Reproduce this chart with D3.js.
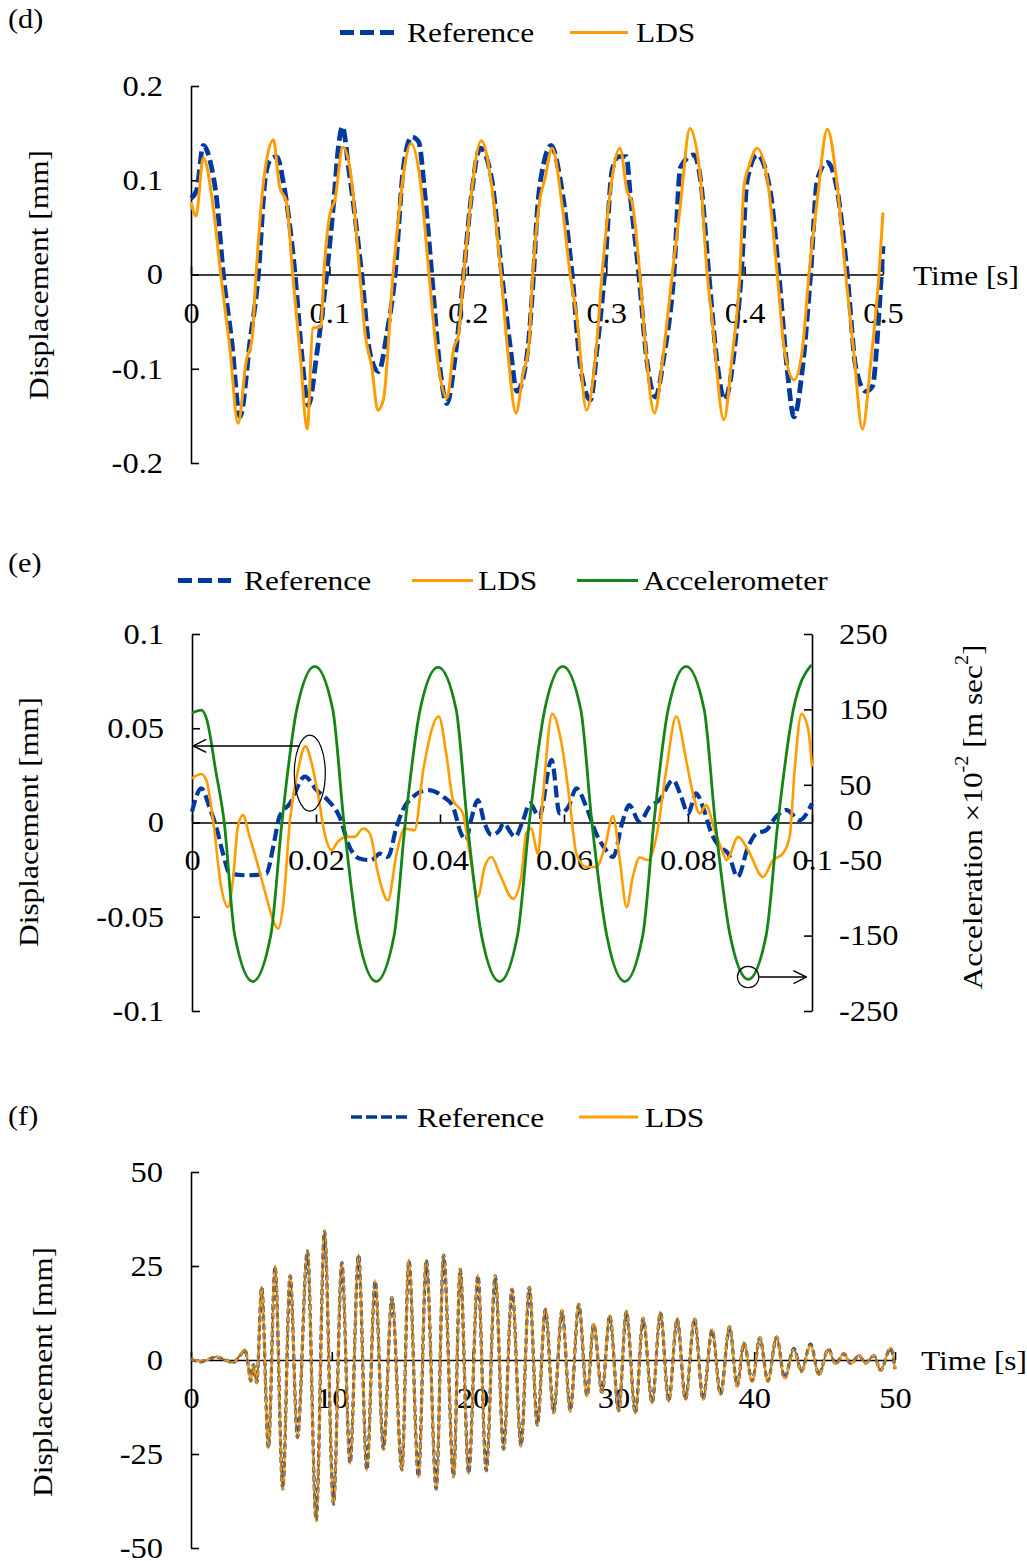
<!DOCTYPE html>
<html><head><meta charset="utf-8">
<script src="https://cdn.jsdelivr.net/npm/d3@7"></script>
<style>body{margin:0;background:#fff}</style>
</head><body>
<svg id="c" width="1027" height="1561"></svg>
<script>
// ---------------- DATA ----------------
const seriesNames = ["Reference", "LDS", "Accelerometer"];
// Panel (d)
const dXTicks = [0, 0.1, 0.2, 0.3, 0.4, 0.5];
const dYTicks = [-0.2, -0.1, 0, 0.1, 0.2];
const dRef = [[0,0.081],[0.004,0.089],[0.0089,0.137],[0.0137,0.121],[0.0186,0.079],[0.0234,0],[0.0294,-0.07],[0.0354,-0.151],[0.0427,-0.07],[0.0487,0],[0.0535,0.1],[0.0571,0.121],[0.062,0.125],[0.0668,0.097],[0.0752,0],[0.08,-0.084],[0.0848,-0.139],[0.0909,-0.084],[0.098,0],[0.103,0.075],[0.1065,0.135],[0.1094,0.157],[0.1138,0.114],[0.1234,0],[0.1294,-0.084],[0.1355,-0.103],[0.1415,-0.063],[0.1475,0],[0.1535,0.114],[0.1596,0.146],[0.1644,0.141],[0.1692,0.082],[0.174,0],[0.18,-0.101],[0.1849,-0.137],[0.1909,-0.087],[0.197,0],[0.2017,0.072],[0.209,0.134],[0.2174,0.1],[0.2246,0],[0.2307,-0.077],[0.2355,-0.124],[0.2427,-0.087],[0.2475,0],[0.2501,0.065],[0.2549,0.118],[0.2602,0.137],[0.2669,0.1],[0.2754,0],[0.2814,-0.098],[0.2886,-0.133],[0.2935,-0.077],[0.2988,0],[0.3043,0.111],[0.3091,0.125],[0.3146,0.125],[0.3175,0.082],[0.3236,0],[0.3296,-0.094],[0.3356,-0.13],[0.3417,-0.087],[0.3489,0],[0.3537,0.114],[0.3633,0.127],[0.3682,0.1],[0.3742,0],[0.3802,-0.094],[0.3855,-0.133],[0.3923,-0.084],[0.3976,0],[0.4019,0.1],[0.4091,0.127],[0.4188,0.086],[0.4248,0],[0.4308,-0.101],[0.4357,-0.151],[0.4417,-0.101],[0.4477,0],[0.4525,0.1],[0.4598,0.119],[0.467,0.089],[0.4742,0],[0.4803,-0.098],[0.4875,-0.124],[0.4923,-0.119],[0.4971,-0.041],[0.5,0.03]];
const dLds = [[0,0.077],[0.0036,0.062],[0.0089,0.124],[0.016,0.072],[0.0215,0],[0.028,-0.077],[0.034,-0.158],[0.04,-0.091],[0.044,-0.07],[0.047,0],[0.052,0.093],[0.0595,0.143],[0.064,0.093],[0.069,0.077],[0.0735,0],[0.079,-0.087],[0.084,-0.164],[0.088,-0.057],[0.094,-0.055],[0.096,0],[0.1005,0.065],[0.104,0.079],[0.1097,0.135],[0.115,0.111],[0.122,0],[0.1258,-0.063],[0.1306,-0.098],[0.135,-0.144],[0.139,-0.133],[0.146,0],[0.159,0.139],[0.1656,0.1],[0.172,0],[0.1776,-0.084],[0.185,-0.131],[0.19,-0.077],[0.193,-0.066],[0.197,0],[0.2097,0.142],[0.217,0.097],[0.224,0],[0.229,-0.084],[0.2348,-0.147],[0.24,-0.105],[0.244,-0.077],[0.247,0],[0.2525,0.083],[0.2555,0.1],[0.261,0.134],[0.268,0.075],[0.274,0],[0.279,-0.048],[0.2857,-0.144],[0.2923,-0.087],[0.297,0],[0.303,0.089],[0.3099,0.134],[0.315,0.089],[0.3189,0.075],[0.3243,0],[0.3284,-0.077],[0.3349,-0.147],[0.3405,-0.094],[0.3477,0],[0.3537,0.075],[0.3605,0.155],[0.3682,0.1],[0.373,0],[0.3766,-0.048],[0.385,-0.154],[0.391,-0.087],[0.3966,0],[0.3995,0.093],[0.403,0.114],[0.409,0.134],[0.4172,0.093],[0.4236,0],[0.4285,-0.077],[0.4357,-0.112],[0.4417,-0.08],[0.4465,0],[0.4525,0.079],[0.4598,0.154],[0.467,0.093],[0.473,0],[0.479,-0.084],[0.4851,-0.164],[0.4911,-0.094],[0.4971,0],[0.5,0.066]];
// Panel (e)
const eXTicks = [0, 0.02, 0.04, 0.06, 0.08, 0.1];
const eYTicks = [-0.1, -0.05, 0, 0.05, 0.1];
const eAccTicks = [250, 150, 50, -50, -150, -250];
const eRef = [[0,0.0057],[0.0015,0.0181],[0.0028,0.0083],[0.0039,-0.0023],[0.005,-0.0165],[0.0061,-0.0271],[0.0088,-0.028],[0.012,-0.0271],[0.0131,-0.0129],[0.0141,0.003],[0.0158,0.0101],[0.0182,0.0243],[0.0201,0.0172],[0.0219,0.0119],[0.0238,0.003],[0.0254,-0.0129],[0.027,-0.0191],[0.0289,-0.02],[0.0303,-0.0165],[0.0316,-0.0183],[0.033,-0.0023],[0.0346,0.0101],[0.0381,0.0172],[0.0405,0.0137],[0.0421,0.0083],[0.0434,-0.0059],[0.0442,-0.0094],[0.045,0.0012],[0.0461,0.0119],[0.0472,-0.0005],[0.0483,-0.0067],[0.0496,-0.0041],[0.0502,-0.0005],[0.0521,-0.0076],[0.0534,0.0012],[0.0545,0.0101],[0.056,0.003],[0.058,0.0332],[0.0593,0.0048],[0.0607,0.0083],[0.062,0.0181],[0.0636,0.0083],[0.0652,-0.0059],[0.0668,-0.0147],[0.0679,-0.0183],[0.0695,0.0012],[0.0705,0.0092],[0.0722,0.0004],[0.0738,0.0083],[0.0754,0.0119],[0.0776,0.0225],[0.0789,0.0137],[0.08,0.0048],[0.0813,0.0154],[0.0824,0.0083],[0.0838,-0.0059],[0.0851,-0.0129],[0.0865,-0.0165],[0.088,-0.0289],[0.0897,-0.0129],[0.091,-0.0059],[0.0926,-0.0041],[0.0942,0.003],[0.0959,0.0066],[0.098,0.0012],[0.1,0.0101]];
const eLds = [[0,0.0234],[0.0015,0.0257],[0.0023,0.0225],[0.0034,0.0012],[0.0047,-0.0342],[0.0058,-0.0449],[0.0066,-0.0307],[0.0074,-0.0023],[0.0082,0.0039],[0.0093,-0.0076],[0.0104,-0.02],[0.012,-0.0395],[0.0131,-0.052],[0.0139,-0.0564],[0.0147,-0.044],[0.0158,0.0012],[0.0171,0.0278],[0.0183,0.0404],[0.0193,0.0314],[0.0203,0.0154],[0.0214,-0.0059],[0.0225,-0.0147],[0.0235,-0.0103],[0.0249,-0.0076],[0.0262,-0.0076],[0.0276,-0.0032],[0.0287,-0.0059],[0.03,-0.0271],[0.0316,-0.0413],[0.033,-0.0165],[0.0343,-0.0032],[0.0359,-0.0041],[0.0373,0.0278],[0.0398,0.0562],[0.041,0.0367],[0.0421,0.0119],[0.0437,0.0048],[0.0448,-0.0165],[0.0461,-0.0395],[0.0472,-0.0236],[0.0483,-0.0183],[0.0496,-0.0271],[0.0518,-0.0404],[0.0531,-0.0289],[0.0539,-0.0059],[0.0547,-0.0032],[0.0558,-0.0165],[0.0566,0.0137],[0.0581,0.0576],[0.0596,0.042],[0.0609,0.0119],[0.062,-0.0165],[0.0636,-0.0236],[0.0652,-0.0236],[0.0666,-0.0129],[0.0679,0.0034],[0.069,-0.02],[0.0701,-0.0449],[0.0711,-0.0289],[0.0722,-0.0186],[0.0736,-0.02],[0.0749,-0.0076],[0.0765,0.0278],[0.0781,0.0562],[0.0797,0.0332],[0.0808,0.0154],[0.0819,0.0048],[0.0829,0.0092],[0.0843,-0.0041],[0.0857,-0.0165],[0.0862,-0.02],[0.0881,-0.0076],[0.0897,-0.0147],[0.0921,-0.0289],[0.0937,-0.02],[0.0953,-0.0165],[0.0964,-0.0076],[0.0972,0.0278],[0.0983,0.0576],[0.0994,0.0491],[0.1,0.0296]];
const eAcc = [[0,145],[0.0015,149],[0.0024,136],[0.0038,70],[0.0052,0],[0.0069,-150],[0.0098,-211],[0.0127,-150],[0.0145,0],[0.0169,150],[0.0198,207],[0.0227,150],[0.0245,0],[0.0268,-150],[0.0297,-211],[0.0326,-150],[0.0344,0],[0.0368,150],[0.0397,206],[0.0426,150],[0.0444,0],[0.0467,-150],[0.0496,-211],[0.0525,-150],[0.0544,0],[0.0569,150],[0.0598,207],[0.0627,150],[0.0645,0],[0.0669,-150],[0.0698,-211],[0.0727,-150],[0.0745,0],[0.0768,150],[0.0797,207],[0.0826,150],[0.0844,0],[0.0868,-150],[0.0897,-208],[0.0926,-150],[0.0945,0],[0.097,150],[0.0999,209]];
// annotation anchors (data units)
const eMarkPeak = {t: 0.0190, v: 0.0262, arrowFrom: 0.0174, arrowTo: 0.0002, arrowV: 0.0406};
const eMarkAcc = {t: 0.0897, a: -205, arrowFrom: 0.0915, arrowTo: 0.0991};
// Panel (f)
const fXTicks = [0, 10, 20, 30, 40, 50];
const fYTicks = [-50, -25, 0, 25, 50];
const fTime = [0,0.64,1.11,1.82,2.30,3.01,3.48,3.84,4.08,4.24,4.43,4.67,5.02,5.50,5.97,6.52,7.04,7.56,8.27,8.89,9.48,10.12,10.71,11.30,11.90,12.49,13.08,13.67,14.27,14.98,15.47,16.16,16.71,17.42,17.94,18.65,19.12,19.72,20.38,20.97,21.61,22.20,22.80,23.44,24.03,24.60,25.17,25.76,26.35,26.94,27.54,28.13,28.60,29.19,29.74,30.38,30.92,31.56,32.11,32.75,33.34,33.93,34.53,35.12,35.76,36.37,37.01,37.61,38.25,38.79,39.27,39.86,40.40,40.97,41.59,42.16,42.82,43.35,44.00,44.60,45.26,45.78,46.37,46.85,47.44,47.91,48.51,48.97,49.69,50.0];
const fLds = [0.3,-0.4,0,0.9,0.2,-0.7,1.3,2.8,-1.8,-5.8,-1.2,-6.2,19.5,-23.5,25.0,-34.5,22.6,-20.8,29.2,-42.9,34.5,-38.6,26.1,-27.6,28.1,-29.4,21.2,-23.9,16.8,-29.4,26.7,-31.2,26.7,-34.5,28.1,-31.2,24.3,-30.3,22.6,-29.6,22.6,-23.9,19.0,-23.0,19.5,-17.5,13.7,-14.2,13.3,-13.7,15.0,-9.7,9.7,-8.8,11.9,-13.7,13.1,-14.2,11.3,-11.5,12.8,-11.1,11.1,-10.6,11.1,-10.6,8.2,-9.3,9.0,-7.1,4.6,-5.8,6.0,-5.8,6.2,-4.9,2.8,-3.1,4.0,-4.0,2.8,-1.1,1.8,-1.1,1.3,-0.9,1.3,-2.8,3.3,-2.5];
const fRef = [0.3,-0.5,0,0.8,0.2,-0.7,1.2,2.6,-1.8,-5.6,-1.2,-6.0,19.3,-23.3,24.8,-34.3,22.4,-20.6,29.0,-42.6,34.3,-38.4,25.9,-27.4,27.9,-29.2,21.0,-23.7,16.6,-29.2,26.5,-31.0,26.5,-34.3,27.9,-31.0,24.1,-30.1,22.4,-29.4,22.4,-23.7,18.8,-22.8,19.3,-17.3,13.5,-14.0,13.1,-13.5,14.8,-9.5,9.5,-8.6,11.7,-13.5,12.9,-14.0,11.1,-11.3,12.6,-10.9,10.9,-10.4,10.9,-10.4,8.0,-9.1,8.8,-6.9,4.5,-5.6,5.9,-5.6,6.1,-4.8,3.0,-3.0,4.2,-3.9,2.9,-1.0,1.7,-1.0,1.2,-0.8,1.2,-2.7,3.1,-2.4];

// ---------------- STYLE ----------------
const FONT = "Liberation Serif";
const BLUE = "#003a9e", ORANGE = "#ff9c00", GREEN = "#158615";
const fmt = d => String(d);

const svg = d3.select("#c");
svg.append("rect").attr("width",1027).attr("height",1561).attr("fill","#fff");
const defs = svg.append("defs");
defs.append("marker").attr("id","arr").attr("viewBox","0 -8 16 16")
  .attr("refX",15).attr("refY",0).attr("markerWidth",16).attr("markerHeight",16)
  .attr("markerUnits","userSpaceOnUse").attr("orient","auto")
  .append("path").attr("d","M2,-6.5L15,0L2,6.5").attr("fill","none").attr("stroke","#000").attr("stroke-width",1.4);

function styleAxis(sel){
  sel.attr("font-family",FONT).attr("font-size",29);
  sel.select(".domain").attr("stroke","#000").attr("stroke-width",1.6);
  sel.selectAll(".tick line").attr("stroke","#000").attr("stroke-width",1.6);
  sel.selectAll(".tick text").attr("fill","#000");
}
function txt(x,y,s,size,anchor){
  return svg.append("text").attr("x",x).attr("y",y).attr("font-family",FONT)
    .attr("font-size",size||28).attr("text-anchor",anchor||"start").attr("fill","#000").text(s);
}
function vtitle(x,y,s){
  return svg.append("text").attr("transform",`translate(${x},${y}) rotate(-90)`)
    .attr("text-anchor","middle").attr("dominant-baseline","central")
    .attr("font-family",FONT).attr("font-size",28).attr("fill","#000").text(s);
}
function legendLine(x1,x2,y,color,w,dash){
  const l = svg.append("line").attr("x1",x1).attr("x2",x2).attr("y1",y).attr("y2",y)
    .attr("stroke",color).attr("stroke-width",w);
  if(dash) l.attr("stroke-dasharray",dash);
}
function drawLine(data,x,y,color,w,dash,op){
  const p = svg.append("path").datum(data).attr("fill","none").attr("stroke",color)
    .attr("stroke-width",w).attr("stroke-linejoin","round")
    .attr("d", d3.line().x(d=>x(d[0])).y(d=>y(d[1])).curve(d3.curveMonotoneX));
  if(dash) p.attr("stroke-dasharray",dash);
  if(op) p.attr("stroke-opacity",op);
}

// ---------------- PANEL (d) ----------------
const xd = d3.scaleLinear([0,0.5],[191,883]);
const yd = d3.scaleLinear([-0.2,0.2],[463,86]);
svg.append("g").attr("transform","translate(191,0)")
  .call(d3.axisLeft(yd).tickValues(dYTicks).tickFormat(fmt).tickSize(-8).tickSizeOuter(0).tickPadding(28)).call(styleAxis);
svg.append("g").attr("transform",`translate(0,${yd(0)})`)
  .call(d3.axisBottom(xd).tickValues(dXTicks).tickFormat(fmt).tickSize(-8).tickSizeOuter(0).tickPadding(28)).call(styleAxis);
txt(8,28,"(d)",27);
legendLine(340,395,32.5,BLUE,5,"14,6");
txt(407,42,seriesNames[0]);
legendLine(570,628,32.5,ORANGE,3.2);
txt(636,42,seriesNames[1]);
vtitle(38,275,"Displacement [mm]");
txt(913,285,"Time [s]");
drawLine(dRef,xd,yd,BLUE,4.8,"13,5");
drawLine(dLds,xd,yd,ORANGE,3);

// ---------------- PANEL (e) ----------------
const xe = d3.scaleLinear([0,0.1],[192,812]);
const ye = d3.scaleLinear([-0.1,0.1],[1011,634]);
const ya = d3.scaleLinear([-250,250],[1011,634]);
svg.append("g").attr("transform","translate(192,0)")
  .call(d3.axisLeft(ye).tickValues(eYTicks).tickFormat(fmt).tickSize(-8).tickSizeOuter(0).tickPadding(28)).call(styleAxis);
svg.append("g").attr("transform","translate(812,0)")
  .call(d3.axisRight(ya).tickValues(eAccTicks).tickFormat(fmt).tickSize(-8).tickSizeOuter(0).tickPadding(27)).call(styleAxis);
svg.append("g").attr("transform",`translate(0,${ye(0)})`)
  .call(d3.axisBottom(xe).tickValues(eXTicks).tickFormat(fmt).tickSize(-8).tickSizeOuter(0).tickPadding(27)).call(styleAxis);
svg.append("text").attr("x",847).attr("y",ya(0)-2).attr("dy","0.32em").attr("font-family",FONT)
  .attr("font-size",29).attr("fill","#000").text("0");
txt(8,572,"(e)",27);
legendLine(178,231,580.5,BLUE,5,"14,6");
txt(244,590,seriesNames[0]);
legendLine(412,473,580.5,ORANGE,3.2);
txt(478,590,seriesNames[1]);
legendLine(577,638,580.5,GREEN,3.2);
txt(643,590,seriesNames[2]);
vtitle(28,822,"Displacement [mm]");
const at = svg.append("text").attr("transform","translate(972,817) rotate(-90)")
  .attr("text-anchor","middle").attr("dominant-baseline","central")
  .attr("font-family",FONT).attr("font-size",28).attr("fill","#000");
at.append("tspan").text("Acceleration ×10");
at.append("tspan").attr("baseline-shift","super").attr("font-size",18).text("-2");
at.append("tspan").text(" [m sec");
at.append("tspan").attr("baseline-shift","super").attr("font-size",18).text("2");
at.append("tspan").text("]");
drawLine(eRef,xe,ye,BLUE,4.2,"12,5");
drawLine(eLds,xe,ye,ORANGE,2.6);
drawLine(eAcc,xe,ya,GREEN,2.8);
// annotations
svg.append("ellipse").attr("cx",xe(eMarkPeak.t)).attr("cy",ye(eMarkPeak.v)).attr("rx",15.5).attr("ry",38)
  .attr("fill","none").attr("stroke","#000").attr("stroke-width",1.2);
svg.append("line").attr("x1",xe(eMarkPeak.arrowFrom)).attr("x2",xe(eMarkPeak.arrowTo))
  .attr("y1",ye(eMarkPeak.arrowV)).attr("y2",ye(eMarkPeak.arrowV))
  .attr("stroke","#000").attr("stroke-width",1.6).attr("marker-end","url(#arr)");
svg.append("circle").attr("cx",xe(eMarkAcc.t)).attr("cy",ya(eMarkAcc.a)).attr("r",10.7)
  .attr("fill","none").attr("stroke","#000").attr("stroke-width",1.2);
svg.append("line").attr("x1",xe(eMarkAcc.arrowFrom)).attr("x2",xe(eMarkAcc.arrowTo))
  .attr("y1",ya(eMarkAcc.a)).attr("y2",ya(eMarkAcc.a))
  .attr("stroke","#000").attr("stroke-width",1.6).attr("marker-end","url(#arr)");

// ---------------- PANEL (f) ----------------
const xf = d3.scaleLinear([0,50],[191,895]);
const yf = d3.scaleLinear([-50,50],[1548,1172]);
svg.append("g").attr("transform","translate(191,0)")
  .call(d3.axisLeft(yf).tickValues(fYTicks).tickFormat(fmt).tickSize(-8).tickSizeOuter(0).tickPadding(28)).call(styleAxis);
svg.append("g").attr("transform",`translate(0,${yf(0)})`)
  .call(d3.axisBottom(xf).tickValues(fXTicks).tickFormat(fmt).tickSize(-8).tickSizeOuter(0).tickPadding(27)).call(styleAxis);
txt(8,1125,"(f)",27);
legendLine(351,407,1117,BLUE,3.4,"11,4");
txt(417,1127,seriesNames[0]);
legendLine(579,638,1117,ORANGE,3);
txt(645,1127,seriesNames[1]);
vtitle(42,1372,"Displacement [mm]");
txt(921,1370,"Time [s]");
const fRefPts = fTime.map((t,i)=>[t,fRef[i]]);
const fLdsPts = fTime.map((t,i)=>[t,fLds[i]]);
drawLine(fRefPts,xf,yf,BLUE,3.2,"6,3");
drawLine(fLdsPts,xf,yf,ORANGE,2.4);
drawLine(fRefPts,xf,yf,BLUE,1.4,"6,4",0.5);

// widen glyphs slightly to match the reference face
svg.selectAll("text").each(function(){
  const l = this.getComputedTextLength();
  if(l>0){ this.setAttribute("textLength", (l*1.12).toFixed(1)); this.setAttribute("lengthAdjust","spacingAndGlyphs"); }
});
</script>
</body></html>
